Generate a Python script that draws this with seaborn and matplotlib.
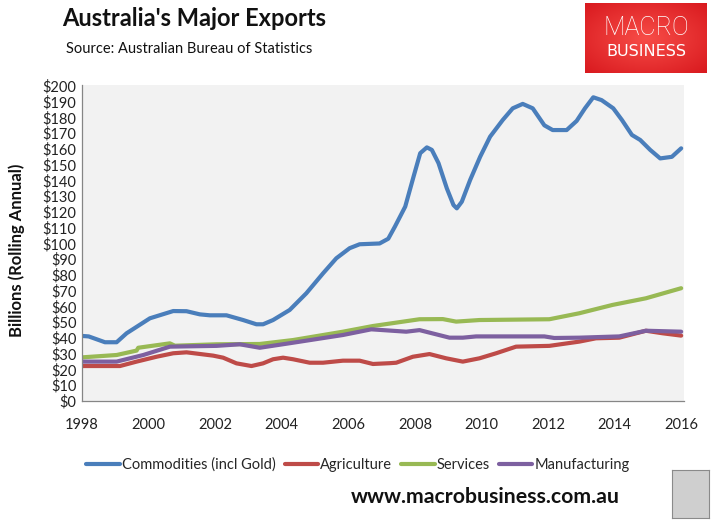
import numpy as np
import pandas as pd
import matplotlib
matplotlib.use("Agg")
import matplotlib.pyplot as plt
from matplotlib.lines import Line2D
import seaborn as sns

# ---- data ----
series_names = ["Commodities (incl Gold)", "Agriculture", "Services", "Manufacturing"]

comm_years = [1998.0, 1998.2, 1998.69, 1999.04, 1999.34, 2000.04, 2000.74, 2001.14, 2001.54,
              2001.84, 2002.34, 2002.84, 2003.24, 2003.44, 2003.74, 2004.24, 2004.74, 2005.24,
              2005.64, 2006.04, 2006.34, 2006.94, 2007.2, 2007.4, 2007.71, 2007.96, 2008.16,
              2008.36, 2008.51, 2008.71, 2008.96, 2009.16, 2009.26, 2009.41, 2009.66, 2009.96,
              2010.26, 2010.64, 2010.94, 2011.24, 2011.54, 2011.89, 2012.14, 2012.36, 2012.56,
              2012.86, 2013.11, 2013.36, 2013.61, 2013.96, 2014.22, 2014.52, 2014.77, 2015.07,
              2015.37, 2015.72, 2016.0]
comm_vals = [41.3, 41.0, 37.3, 37.3, 43.0, 52.5, 57.1, 57.0, 55.0,
             54.4, 54.4, 51.4, 48.7, 48.7, 51.4, 57.8, 68.4, 81.0,
             90.6, 97.0, 99.5, 100.0, 103.0, 110.7, 123.4, 142.4, 157.3,
             161.0, 159.4, 151.0, 135.0, 124.4, 122.3, 126.5, 140.3, 155.0,
             167.8, 178.4, 185.8, 188.6, 185.8, 175.0, 172.0, 172.0, 172.0,
             177.8, 185.8, 192.8, 191.0, 185.8, 178.4, 168.9, 165.7, 159.4,
             154.0, 155.0, 160.4]

agri_years = [1998.0, 1999.14, 1999.64, 2000.24, 2000.74, 2001.14, 2001.94, 2002.24, 2002.64,
              2003.09, 2003.44, 2003.74, 2004.04, 2004.34, 2004.84, 2005.24, 2005.84, 2006.34,
              2006.74, 2007.24, 2007.44, 2007.94, 2008.44, 2008.94, 2009.44, 2009.94, 2010.44,
              2011.04, 2012.04, 2012.94, 2013.44, 2014.14, 2014.94, 2015.44, 2016.0]
agri_vals = [22.2, 22.2, 25.0, 28.1, 30.3, 30.9, 28.8, 27.5, 23.9,
             22.2, 23.9, 26.5, 27.5, 26.5, 24.3, 24.3, 25.6, 25.6,
             23.5, 24.0, 24.3, 28.1, 29.8, 27.1, 25.0, 27.1, 30.3,
             34.5, 35.0, 37.7, 39.8, 40.2, 44.6, 43.0, 41.5]

serv_years = [1998.0, 1999.04, 1999.64, 1999.69, 2000.64, 2000.79, 2002.04, 2003.34, 2004.34,
              2005.84, 2006.74, 2008.14, 2008.84, 2009.24, 2009.94, 2012.04, 2012.94, 2013.94,
              2014.94, 2016.0]
serv_vals = [27.7, 29.2, 32.0, 33.8, 36.6, 35.1, 36.0, 36.2, 38.7,
             44.0, 47.6, 51.9, 52.0, 50.4, 51.4, 51.9, 55.7, 61.0,
             65.2, 71.6]

manu_years = [1998.0, 1999.04, 1999.84, 2000.64, 2002.04, 2002.74, 2003.34, 2004.34, 2005.84,
              2006.69, 2007.74, 2008.14, 2009.04, 2009.44, 2009.84, 2011.89, 2012.19, 2012.94,
              2014.14, 2014.94, 2016.0]
manu_vals = [25.0, 25.0, 29.2, 34.5, 35.0, 36.0, 33.8, 37.0, 41.9,
             45.5, 44.0, 45.0, 40.2, 40.2, 41.0, 41.0, 40.0, 40.2,
             41.0, 44.6, 44.0]

x_ticks = [1998, 2000, 2002, 2004, 2006, 2008, 2010, 2012, 2014, 2016]
y_ticks = list(range(0, 201, 10))
y_tick_labels = ["$" + str(v) for v in y_ticks]

colors = ["#4A7EBB", "#BE4B48", "#98B954", "#7D60A0"]

frames = []
for name, yrs, vals in zip(series_names,
                           [comm_years, agri_years, serv_years, manu_years],
                           [comm_vals, agri_vals, serv_vals, manu_vals]):
    frames.append(pd.DataFrame({"year": yrs, "value": vals, "series": name}))
df = pd.concat(frames, ignore_index=True)

# ---- style ----
sns.set_style("white")
plt.rcParams["font.family"] = ["Lato", "DejaVu Sans"]

W, H = 713, 522
fig = plt.figure(figsize=(W / 100, H / 100), dpi=100)
ax = fig.add_axes([82 / W, 1 - 401 / H, (683.5 - 82) / W, (401 - 85) / H])
ax.set_facecolor("#F2F2F2")

sns.lineplot(data=df, x="year", y="value", hue="series", hue_order=series_names,
             palette=colors, estimator=None, linewidth=3.0, legend=False, ax=ax,
             solid_capstyle="round", solid_joinstyle="round")

ax.set_xlim(1998, 2016.07)
ax.set_ylim(0, 200.6)
ax.set_xticks(x_ticks)
ax.set_xticklabels([str(t) for t in x_ticks], fontsize=10.5, color="#222222")
ax.set_yticks(y_ticks)
ax.set_yticklabels(y_tick_labels, fontsize=10.5, color="#222222")
ax.tick_params(axis="x", direction="out", length=4, width=0.8, color="#868686", pad=8)
ax.tick_params(axis="y", length=0, pad=4)
ax.set_xlabel("")
ax.set_ylabel("")
for s in ["top", "right"]:
    ax.spines[s].set_visible(False)
for s in ["left", "bottom"]:
    ax.spines[s].set_color("#868686")
    ax.spines[s].set_linewidth(0.9)

fig.text(17 / W, 1 - 250 / H, "Billions (Rolling Annual)", rotation=90, fontsize=12,
         fontweight="bold", ha="center", va="center", color="#111111")

# title + source
fig.text(62 / W, 1 - 19 / H, "Australia's Major Exports", fontsize=17, fontweight="bold",
         ha="left", va="center", color="#111111")
fig.text(66 / W, 1 - 49 / H, "Source: Australian Bureau of Statistics", fontsize=10.5,
         ha="left", va="center", color="#111111")

# legend
handles = [Line2D([0], [0], color=c, lw=3.0, solid_capstyle="round") for c in colors]
fig.legend(handles, series_names, loc="center", bbox_to_anchor=(358 / W, 1 - 465 / H),
           ncol=4, frameon=False, fontsize=10.5, handlelength=2.3, handletextpad=0.15,
           columnspacing=0.6)

# footer
fig.text(485 / W, 1 - 497 / H, "www.macrobusiness.com.au", fontsize=15.3, fontweight="bold",
         ha="center", va="center", color="#111111")

# logo
lax = fig.add_axes([585 / W, 1 - 73 / H, 122 / W, 70 / H])
yy, xx = np.mgrid[-1:1:70j, -1:1:122j]
r = np.sqrt(xx ** 2 + yy ** 2) / np.sqrt(2)
top = np.array([0.97, 0.30, 0.28])
edge = np.array([0.85, 0.10, 0.12])
grad = top[None, None, :] * (1 - r[..., None]) + edge[None, None, :] * r[..., None]
lax.imshow(grad, aspect="auto", extent=[0, 1, 0, 1])
lax.set_xlim(0, 1)
lax.set_ylim(0, 1)
lax.axis("off")
lax.text(0.5, 0.64, "MACRO", color="white", fontsize=18, ha="center", va="center",
         family=["Roboto", "DejaVu Sans"], fontweight="light")
lax.text(0.5, 0.3, "BUSINESS", color="white", fontsize=11.5, ha="center", va="center",
         family=["DejaVu Sans"])

# wolf badge placeholder
wax = fig.add_axes([672 / W, 1 - 518 / H, 37 / W, 48 / H])
wax.set_facecolor("#CFCFCF")
wax.set_xticks([])
wax.set_yticks([])
for s in wax.spines.values():
    s.set_color("#8A8A8A")

fig.savefig("out.png", dpi=100)
